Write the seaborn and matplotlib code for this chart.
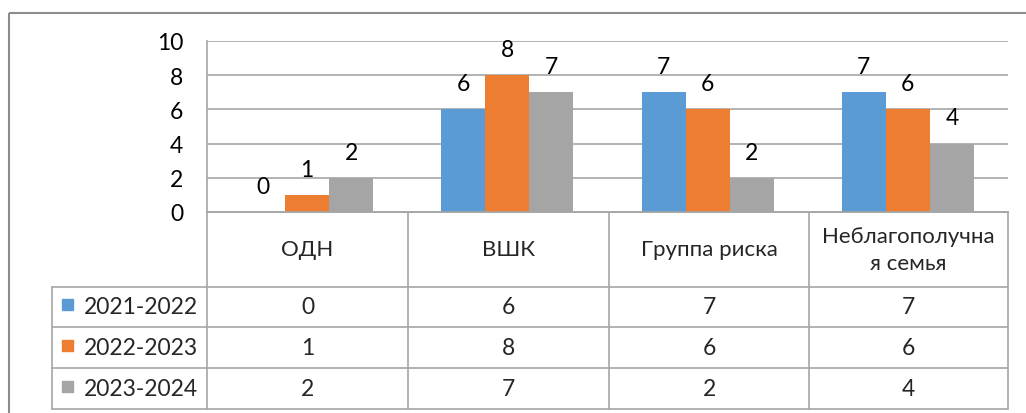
import pandas as pd
import seaborn as sns
import matplotlib.pyplot as plt
from matplotlib.patches import Rectangle

# ----------------------
# Data
# ----------------------
categories = ["ОДН", "ВШК", "Группа риска", "Неблагополучная семья"]
header_labels = ["ОДН", "ВШК", "Группа риска", "Неблагополучна\nя семья"]
years = ["2021-2022", "2022-2023", "2023-2024"]
v_2021 = [0, 6, 7, 7]
v_2022 = [1, 8, 6, 6]
v_2023 = [2, 7, 2, 4]
colors = ["#5B9BD5", "#ED7D31", "#A5A5A5"]

series = [v_2021, v_2022, v_2023]
df = pd.DataFrame({
    "cat": categories * 3,
    "year": [y for y in years for _ in categories],
    "val": v_2021 + v_2022 + v_2023,
})

sns.set_theme(style="white")
plt.rcParams['font.family'] = ['Lato', 'DejaVu Sans']

W, H = 1026, 414
fig = plt.figure(figsize=(W / 100, H / 100), dpi=100)

# pixel-based layout
px_l, px_r, px_t, px_b = 207, 1008, 42, 213
ax = fig.add_axes([px_l / W, 1 - px_b / H, (px_r - px_l) / W, (px_b - px_t) / H])

sns.barplot(data=df, x="cat", y="val", hue="year", order=categories,
            hue_order=years, palette=colors, width=0.66, saturation=1,
            linewidth=0, legend=False, ax=ax)

grid_c = "#A6A6A6"
ax.set_ylim(0, 10)
ax.set_yticks(range(0, 11, 2))
ax.set_xlim(-0.5, 3.5)
ax.set_xticks([])
ax.set_xlabel("")
ax.set_ylabel("")
ax.yaxis.grid(True, color=grid_c, lw=1.2)
ax.set_axisbelow(True)
ax.tick_params(axis="y", length=0, pad=17, labelsize=16.5, labelcolor="black")
for s in ["top", "right"]:
    ax.spines[s].set_visible(False)
for s in ["left", "bottom"]:
    ax.spines[s].set_color(grid_c)
    ax.spines[s].set_linewidth(1.2)

for c in ax.containers:
    ax.bar_label(c, padding=11, fontsize=16.5, color="black")

# ----------------------
# Data table below the chart
# ----------------------
ov = fig.add_axes([0, 0, 1, 1], zorder=-1)
ov.set_xlim(0, W)
ov.set_ylim(H, 0)
ov.axis("off")

# outer chart frame
ov.add_patch(Rectangle((9, 14), W + 20, H + 20, fill=False, ec="#8C8C8C", lw=1.5))

col_x = [207, 408, 609, 809, 1008]
row_y = [213, 288, 328, 369, 410]
leg_l = 52
tl = dict(color=grid_c, lw=1.2)

for i, y in enumerate(row_y):
    x0 = col_x[0] if i == 0 else leg_l
    ov.plot([x0, col_x[-1]], [y, y], **tl)
for x in col_x:
    ov.plot([x, x], [row_y[0], row_y[-1]], **tl)
ov.plot([leg_l, leg_l], [row_y[1], row_y[-1]], **tl)

hy = (row_y[0] + row_y[1]) / 2
for j, lab in enumerate(header_labels):
    cx = (col_x[j] + col_x[j + 1]) / 2
    ov.text(cx, hy, lab, ha="center", va="center", fontsize=16,
            linespacing=1.45)

for i, (yr, vals, col) in enumerate(zip(years, series, colors)):
    cy = (row_y[i + 1] + row_y[i + 2]) / 2
    ov.add_patch(Rectangle((62, cy - 8), 11, 11, color=col))
    ov.text(84, cy, yr, ha="left", va="center", fontsize=16.5)
    for j, v in enumerate(vals):
        cx = (col_x[j] + col_x[j + 1]) / 2
        ov.text(cx, cy, str(v), ha="center", va="center", fontsize=16.5)

fig.savefig("out.png", dpi=100)
